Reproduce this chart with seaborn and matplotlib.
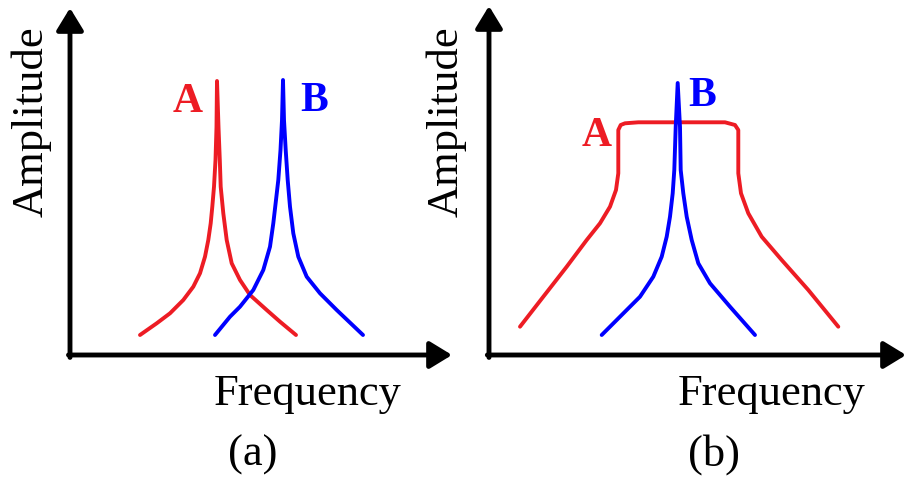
import matplotlib
matplotlib.use('Agg')
import matplotlib.pyplot as plt
import seaborn as sns
import pandas as pd

# panel (a): two narrow resonance peaks side by side
a_red_freq = [70, 86.7, 100, 113.3, 123.3, 130, 135, 138.3, 140.7, 142.3, 144, 145.5, 146.5, 147,
              148.5, 149.8, 150.7, 153.3, 156.7, 161.7, 170, 180, 196.7, 210, 226]
a_red_amp = [20, 31.7, 41.7, 55, 68.3, 81.7, 98.3, 115, 131.7, 148.3, 168.3, 195, 228, 274,
             228, 195, 168.3, 141.7, 115, 91.7, 75, 60, 45, 33.3, 20]
a_blue_freq = [145, 160, 170, 183.3, 193.3, 200, 203.3, 206, 208.3, 210.5, 212, 213,
               214, 215.7, 217.7, 220, 223.3, 228.3, 236.7, 250, 266.7, 293]
a_blue_amp = [20, 38.3, 48.3, 65, 85, 108.3, 131.7, 155, 175, 205, 235, 275,
              235, 205, 175, 148.3, 121.7, 98.3, 78.3, 61.7, 45, 20]

# panel (b): broad flat-topped A with narrow B inside
b_red_freq = [31, 54.3, 77.7, 97.7, 111, 121, 127, 129.3, 129.3, 131.7, 136, 149.3,
              236, 246, 249.3, 249.3, 252, 259.3, 272.7, 292.7, 319.3, 349.3]
b_red_amp = [28.3, 58.3, 88.3, 115, 131.7, 148.3, 165, 181.7, 225, 230, 231.7, 232.7,
             232.7, 230, 225, 181.7, 161.7, 141.7, 118.3, 95, 65, 28.3]
b_blue_freq = [112.7, 131, 151, 164.3, 172.7, 177.7, 181, 183.7, 185.3, 186.7, 188.7,
               191, 191.7, 194.3, 197.7, 202.7, 209.3, 221, 241, 266]
b_blue_amp = [20, 38.3, 58.3, 78.3, 98.3, 118.3, 138.3, 161.7, 185, 228, 272,
              228, 185, 161.7, 138.3, 115, 91.7, 71.7, 48.3, 20]

RED = '#ED1C24'
BLUE = '#0000FF'
W, H = 907, 478

sns.set_style('white')
plt.rcParams['font.family'] = ['Liberation Serif', 'DejaVu Serif']

fig = plt.figure(figsize=(9.07, 4.78), dpi=100)


def panel(x0, y0, x1, y1, curves):
    ax = fig.add_axes([x0 / W, 1 - y0 / H, (x1 - x0) / W, (y0 - y1) / H])
    for fx, amp, col in curves:
        df = pd.DataFrame({'f': fx, 'a': amp})
        sns.lineplot(data=df, x='f', y='a', sort=False, estimator=None,
                     color=col, lw=2.8, ax=ax, solid_joinstyle='round')
    ax.set_xlim(0, x1 - x0)
    ax.set_ylim(0, y0 - y1)
    ax.axis('off')
    style = '-|>,head_length=0.9,head_width=0.55'
    ax.annotate('', xy=(0, 1), xytext=(0, -0.007), xycoords='axes fraction',
                arrowprops=dict(arrowstyle=style, lw=3.5, color='k',
                                shrinkA=0, shrinkB=0, mutation_scale=15))
    ax.annotate('', xy=(1, 0), xytext=(-0.004, 0), xycoords='axes fraction',
                arrowprops=dict(arrowstyle=style, lw=3.5, color='k',
                                shrinkA=0, shrinkB=0, mutation_scale=15))
    return ax


panel(70, 355, 452, 8, [(a_red_freq, a_red_amp, RED), (a_blue_freq, a_blue_amp, BLUE)])
panel(489, 355, 906, 6, [(b_red_freq, b_red_amp, RED), (b_blue_freq, b_blue_amp, BLUE)])


def label(x, y, s, **kw):
    fig.text(x / W, 1 - y / H, s, **kw)


big = dict(fontsize=32, ha='center', va='baseline', color='black')
label(308, 405, 'Frequency', **big)
label(772, 405, 'Frequency', **big)
label(253, 466, '(a)', **big)
label(714, 466, '(b)', **big)
label(43, 122, 'Amplitude', rotation=90, rotation_mode='anchor', **big)
label(458, 122, 'Amplitude', rotation=90, rotation_mode='anchor', **big)

tag = dict(fontsize=30, fontweight='bold', ha='center', va='baseline')
label(188, 112, 'A', color=RED, **tag)
label(314, 111, 'B', color=BLUE, **tag)
label(597, 146, 'A', color=RED, **tag)
label(702, 106, 'B', color=BLUE, **tag)

fig.savefig('out.png', dpi=100, facecolor='white')
